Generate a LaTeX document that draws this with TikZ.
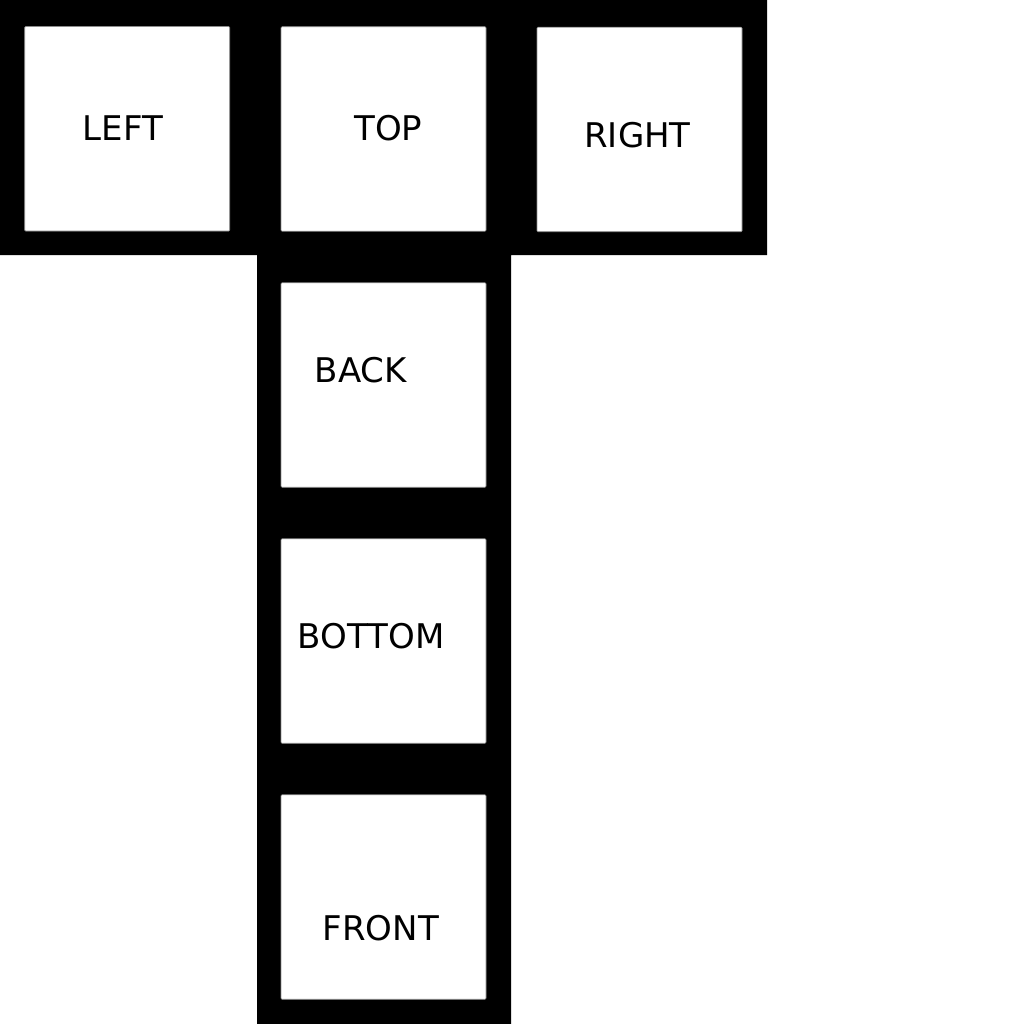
\documentclass[tikz,border=0pt]{standalone}
\usepackage{fontspec}
\setmainfont{DejaVu Sans}
\begin{document}
\begin{tikzpicture}[x=1pt,y=-1pt,
  face/.style={draw=black!45,line width=0.6pt,fill=white,minimum width=205pt,minimum height=204.5pt,inner sep=0pt,rounded corners=1pt},
  facelabel/.style={anchor=base,inner sep=0pt,font=\fontsize{34pt}{40pt}\selectfont}]
\fill[white] (0,0) rectangle (1024,1024);
\useasboundingbox (0,0) rectangle (1024,1024);
\fill[black] (0,0) -- (767,0) -- (767,255) -- (511,255) -- (511,1024) -- (257,1024) -- (257,255) -- (0,255) -- cycle;
\node[face] (left) at (127.2,128.8) {};
\node[face] (top) at (383.5,129) {};
\node[face] (right) at (639.5,129.5) {};
\node[face] (back) at (383.5,385) {};
\node[face] (bottom) at (383.5,641) {};
\node[face] (front) at (383.5,897) {};
\node[facelabel] (tleft) at (123,140.3) {LEFT};
\node[facelabel] (ttop) at (388.3,140.8) {TOP};
\node[facelabel] (tright) at (637.5,147.3) {RIGHT};
\node[facelabel] (tback) at (361,382.3) {BACK};
\node[facelabel] (tbottom) at (371.2,648.3) {BOTTOM};
\node[facelabel] (tfront) at (380.8,940.8) {FRONT};
\end{tikzpicture}
\end{document}
